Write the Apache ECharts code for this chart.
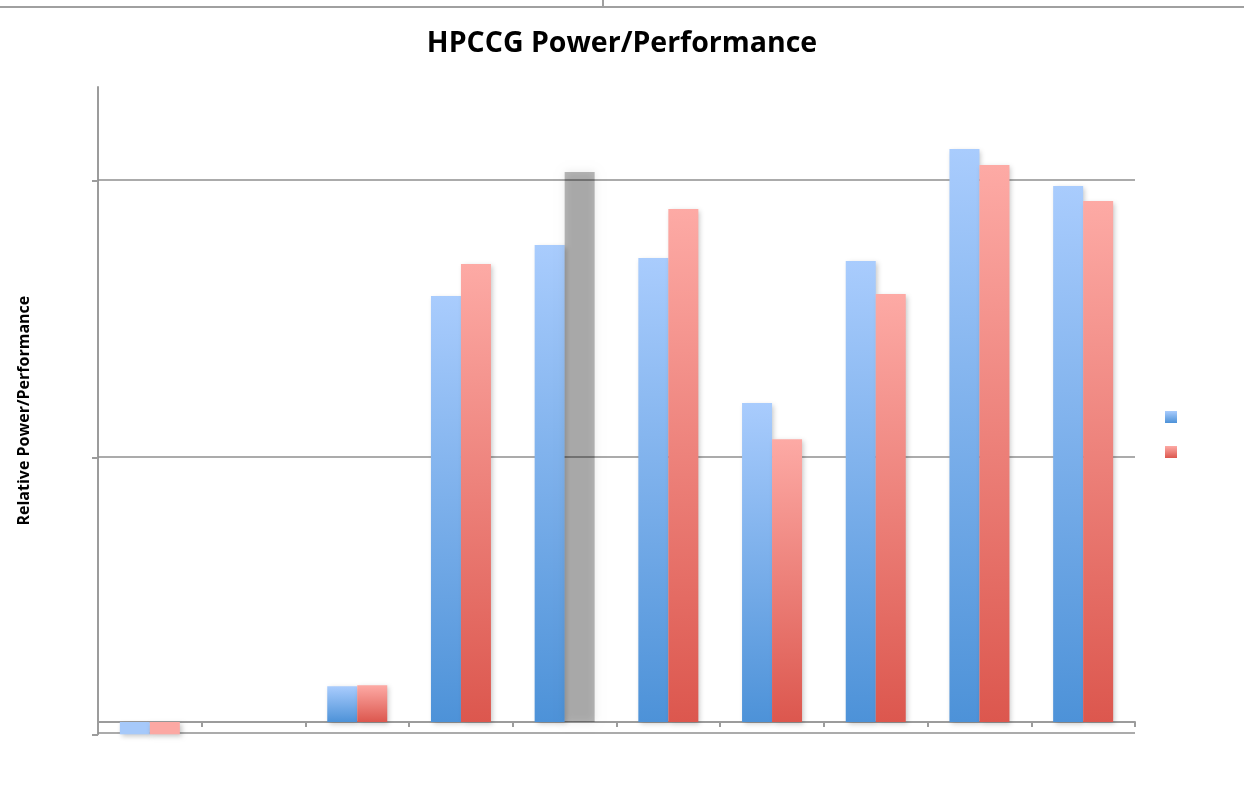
<!DOCTYPE html>
<html>
<head>
<meta charset="utf-8">
<script src="https://cdn.jsdelivr.net/npm/echarts@6/dist/echarts.min.js"></script>
<style>html,body{margin:0;padding:0;background:#fff;}#c{width:1244px;height:801px;}</style>
</head>
<body>
<div id="c"></div>
<script>
const categories = ['C1','C2','C3','C4','C5','C6','C7','C8','C9','C10'];
const seriesNames = ['Series 1','Series 2'];
const blueValues = [-0.046, 0, 0.129, 1.540, 1.724, 1.677, 1.153, 1.666, 2.071, 1.937];
const redValues  = [-0.046, 0, 0.133, 1.655, 1.988, 1.854, 1.022, 1.547, 2.013, 1.883];
const highlightedRedIndex = 4;
const titleText = 'HPCCG Power/Performance';
const yAxisTitle = 'Relative Power/Performance';

const yMin = -0.0445, yMax = 2.295, yStep = 1;

const chart = echarts.init(document.getElementById('c'), null, {renderer:'canvas'});

function grad(top, bottom){
  return new echarts.graphic.LinearGradient(0,0,0,1,[{offset:0,color:top},{offset:1,color:bottom}]);
}
const blueGrad = grad('#a9ccfd','#4d92d8');
const redGrad = grad('#fdaaa5','#dc574e');
const shadow = {shadowBlur:5, shadowOffsetX:2, shadowOffsetY:2, shadowColor:'rgba(0,0,0,0.22)'};

const blueData = blueValues.map(v => v < 0 ? {value:v, itemStyle:{color:'#a6c9fa'}} : v);
const redData = redValues.map((v,i)=> i===highlightedRedIndex
  ? {value:v, itemStyle:{color:'rgba(0,0,0,0.27)', shadowBlur:8, shadowOffsetX:0, shadowOffsetY:0, shadowColor:'rgba(0,0,0,0.35)'}}
  : (v < 0 ? {value:v, itemStyle:{color:'#fca8a3'}} : v));

const tickVals = [];
for (let t = yMin; t < yMax; t += yStep) tickVals.push(t);

chart.setOption({
  animation:false,
  backgroundColor:'#fff',
  title:{text:titleText, left:'center', top:24,
    textStyle:{fontFamily:'Open Sans', fontWeight:'bold', fontSize:28.5, color:'#000'}},
  grid:{left:98, right:109, top:87, bottom:66.7, containLabel:false},
  legend:{orient:'vertical', left:1165, top:411, padding:0, itemWidth:12, itemHeight:12, itemGap:23,
    icon:'rect', formatter:()=>'', data:seriesNames},
  xAxis:{type:'category', data:categories,
    axisLine:{onZero:true, lineStyle:{color:'#9c9c9c', width:2}},
    axisTick:{show:true, length:5, lineStyle:{color:'#9c9c9c', width:2}},
    axisLabel:{show:false}},
  yAxis:{type:'value', min:yMin, max:yMax, interval:yStep,
    name:yAxisTitle, nameLocation:'middle', nameRotate:90, nameGap:66,
    nameTextStyle:{fontFamily:'Open Sans', fontWeight:'bold', fontSize:16, color:'#000'},
    axisLine:{show:true, lineStyle:{color:'#9c9c9c', width:2}},
    axisTick:{show:true, length:6, customValues:tickVals, lineStyle:{color:'#9c9c9c', width:2}},
    axisLabel:{show:false},
    splitLine:{show:false}},
  series:[
    {name:seriesNames[0], type:'bar', data:blueData, barWidth:30, barGap:'0%', z:3,
      itemStyle:Object.assign({color:blueGrad}, shadow),
      markLine:{silent:true, symbol:'none', label:{show:false}, z:1,
        lineStyle:{color:'#8f8f8f', width:1.6, type:'solid'},
        data:tickVals.map(v=>({yAxis:v}))}},
    {name:seriesNames[1], type:'bar', data:redData, barWidth:30, barGap:'0%', z:3,
      itemStyle:Object.assign({color:redGrad}, shadow)}
  ],
  graphic:[
    {type:'line', shape:{x1:0,y1:7,x2:1244,y2:7}, style:{stroke:'#a0a0a0', lineWidth:2}, silent:true},
    {type:'line', shape:{x1:603,y1:0,x2:603,y2:7}, style:{stroke:'#a0a0a0', lineWidth:2}, silent:true}
  ]
});
</script>
</body>
</html>
